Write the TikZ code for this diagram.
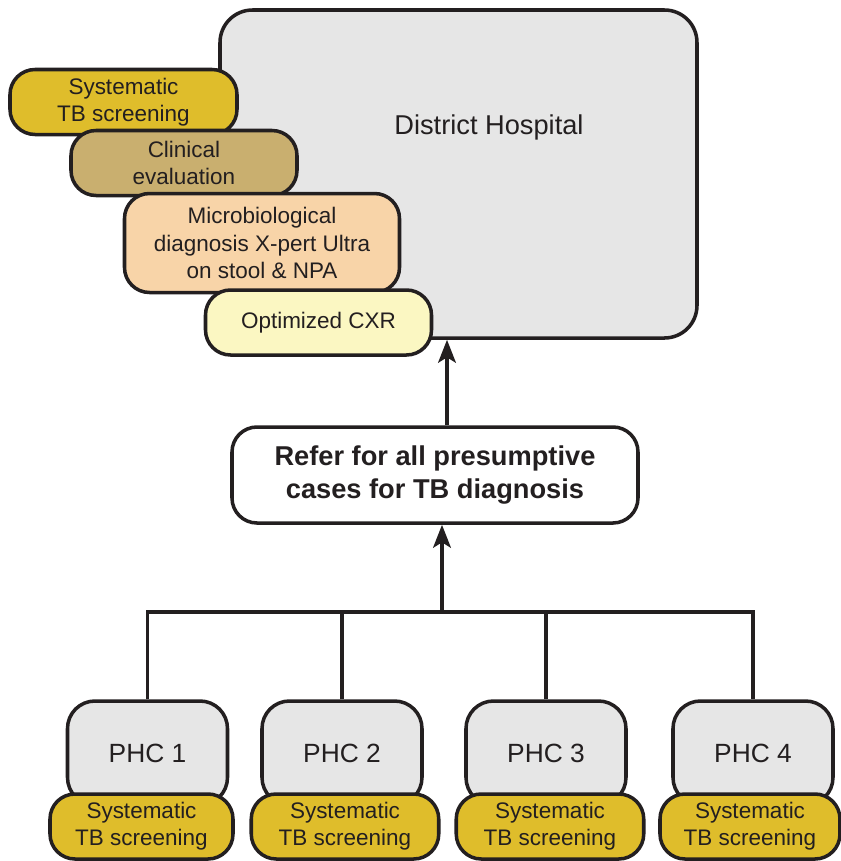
\documentclass[tikz,border=0pt]{standalone}
\usepackage{fontspec}
\setmainfont{Liberation Sans}
\usepackage{tikz}
\usetikzlibrary{arrows.meta, positioning, calc}
\definecolor{screenyellow}{HTML}{DFBD2B}
\definecolor{clintan}{HTML}{C9AF6F}
\definecolor{micropeach}{HTML}{F8D4A8}
\definecolor{cxryellow}{HTML}{FBF7C2}
\definecolor{sitegray}{HTML}{E6E6E6}
\definecolor{inkdark}{HTML}{231F20}

\begin{document}
\begin{tikzpicture}[
  box/.style={
    draw=inkdark, fill=#1, line width=2pt,
    rounded corners=0.5cm, align=center, text=inkdark,
    inner sep=0pt, font=\fontsize{12.8}{15.4}\selectfont
  },
  site/.style={
    draw=inkdark, fill=sitegray, line width=2pt,
    rounded corners=0.55cm, minimum width=3.2cm, minimum height=2.08cm,
    text=inkdark, font=\fontsize{15}{18}\selectfont
  },
  screen/.style={
    box=screenyellow, minimum width=3.75cm, minimum height=1.3cm
  },
  connector/.style={
    draw=inkdark, line width=2.2pt, -{Stealth[length=13pt, width=10pt, inset=3pt]}
  },
  feeder/.style={
    draw=inkdark, line width=2.2pt
  }
]

\useasboundingbox (0,0) rectangle (16.82,-17.22);

% District Hospital
\node[site, minimum width=9.54cm, minimum height=6.56cm, rounded corners=0.65cm] (hosp) at (9.17,-3.48) {};
\node[text=inkdark, font=\fontsize{15.5}{18}\selectfont] (hosptext) at (9.78,-2.54) {District Hospital};

% Services at the hospital
\node[screen, minimum width=4.54cm] (hscreen) at (2.47,-2.04) {Systematic\\TB screening};
\node[box=clintan, minimum width=4.52cm, minimum height=1.3cm] (clin) at (3.68,-3.26) {Clinical\\evaluation};
\node[box=micropeach, minimum width=5.5cm, minimum height=1.98cm] (micro) at (5.24,-4.86) {Microbiological\\diagnosis X-pert Ultra\\on stool \& NPA};
\node[box=cxryellow, minimum width=4.52cm, minimum height=1.3cm] (cxr) at (6.37,-6.45) {Optimized CXR};

% Referral
\node[box=white, minimum width=8.12cm, minimum height=1.92cm, font=\bfseries\fontsize{15.5}{18.8}\selectfont] (refer) at (8.7,-9.5) {Refer for all presumptive\\cases for TB diagnosis};

% Primary health centres
\node[site] (phc1) at (2.95,-15.06) {PHC 1};
\node[site] (phc2) at (6.84,-15.06) {PHC 2};
\node[site] (phc3) at (10.92,-15.06) {PHC 3};
\node[site] (phc4) at (15.06,-15.06) {PHC 4};

\node[screen, minimum width=3.66cm] (scr1) at (2.83,-16.53) {Systematic\\TB screening};
\node[screen] (scr2) at (6.9,-16.53) {Systematic\\TB screening};
\node[screen] (scr3) at (11.0,-16.53) {Systematic\\TB screening};
\node[screen, minimum width=3.6cm] (scr4) at (15.0,-16.53) {Systematic\\TB screening};

% Connections
\coordinate (bar) at (8.84,-12.24);
\draw[feeder] (phc1.north) -- (phc1.north |- bar) -- (phc4.north |- bar) -- (phc4.north);
\draw[feeder] (phc2.north) -- (phc2.north |- bar);
\draw[feeder] (phc3.north) -- (phc3.north |- bar);
\draw[connector] (bar) -- (bar |- refer.south);
\draw[connector] ([xshift=0.24cm]refer.north) -- ([xshift=0.24cm]refer.north |- hosp.south);

\end{tikzpicture}
\end{document}
